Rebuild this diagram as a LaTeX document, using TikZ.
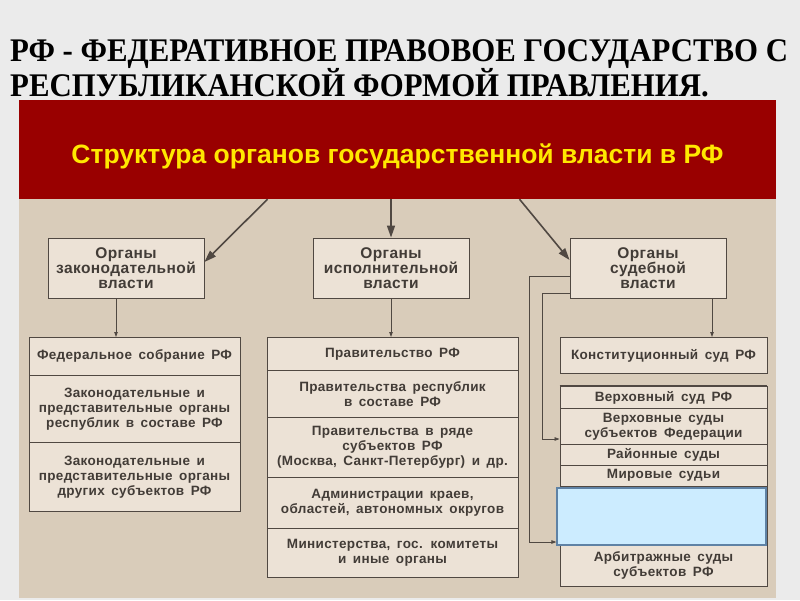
\documentclass[tikz,border=0pt]{standalone}
\usepackage{fontspec}
\usepackage{graphicx}
\setmainfont{Liberation Serif}
\setsansfont{Liberation Sans}
\newfontfamily\boxfont[LetterSpace=2.5,WordSpace=1.6]{Liberation Sans}
\usetikzlibrary{shapes,arrows.meta,calc}

\definecolor{paper}{RGB}{235,235,235}
\definecolor{panel}{RGB}{217,204,186}
\definecolor{boxfill}{RGB}{236,226,214}
\definecolor{edge}{RGB}{80,72,66}
\definecolor{ink}{RGB}{66,60,55}
\definecolor{headred}{RGB}{153,0,0}
\definecolor{headtext}{RGB}{255,232,0}
\definecolor{hidefill}{RGB}{204,236,255}
\definecolor{hideedge}{RGB}{95,130,165}

% one part of a list: height, width, text
\newcommand{\row}[3]{\parbox[c][#1pt][c]{#2pt}{\centering #3}}

\begin{document}
\begin{tikzpicture}[x=1pt,y=-1pt]
\tikzstyle{organ}=[
  draw=edge, fill=boxfill, text=ink, line width=0.9pt,
  font=\boxfont\bfseries\fontsize{15.5}{14.5}\selectfont,
  align=center, inner sep=0pt,
  minimum width=156pt, minimum height=60pt ]
\tikzstyle{orglist}=[
  rectangle split,
  draw=edge, fill=boxfill, text=ink, line width=0.9pt,
  font=\boxfont\bfseries\fontsize{13.5}{15}\selectfont,
  inner sep=0pt ]
\tikzstyle{bigarrow}=[draw=edge, line width=1.6pt,
  -{Triangle[length=12pt,width=8pt]}]
\tikzstyle{smallarrow}=[draw=edge, line width=0.8pt,
  -{Triangle[length=5pt,width=3.5pt]}]

\useasboundingbox[fill=paper] (0,0) rectangle (800,600);
\fill[panel] (19,100) rectangle (776,598);

% title
\node[anchor=base west, inner sep=0pt,
  font=\bfseries\fontsize{33}{33}\selectfont] (title1) at (10,61)
  {\scalebox{0.934}[1]{РФ - ФЕДЕРАТИВНОЕ ПРАВОВОЕ ГОСУДАРСТВО С}};
\node[anchor=base west, inner sep=0pt,
  font=\bfseries\fontsize{33}{33}\selectfont] (title2) at (10,96)
  {\scalebox{0.934}[1]{РЕСПУБЛИКАНСКОЙ ФОРМОЙ ПРАВЛЕНИЯ.}};

% header
\node[fill=headred, minimum width=757pt, minimum height=99pt, inner sep=0pt,
  text height=27pt, text depth=0pt,
  text=headtext, font=\sffamily\bfseries\fontsize{26.5}{26.5}\selectfont]
  (head) at (397.5,149.5) {Структура органов государственной власти в РФ};

% three branches
\node[organ] (leg) at (126,268) {Органы\\законодательной\\власти};
\node[organ] (exe) at (391,268) {Органы\\исполнительной\\власти};
\node[organ] (jud) at (648,268) {Органы\\судебной\\власти};

% lists
\node[orglist, rectangle split parts=3, anchor=north] (leglist) at (134.5,337)
  {\row{37}{211}{Федеральное собрание РФ}
   \nodepart{two}\row{66}{211}{Законодательные и\\представительные органы\\республик в составе РФ}
   \nodepart{three}\row{68}{211}{Законодательные и\\представительные органы\\других субъектов РФ}};
\node[orglist, rectangle split parts=5, anchor=north] (exelist) at (392.5,337)
  {\row{32}{251}{Правительство РФ}
   \nodepart{two}\row{46}{251}{Правительства республик\\в составе РФ}
   \nodepart{three}\row{59}{251}{Правительства в ряде\\субъектов РФ\\(Москва, Санкт-Петербург) и др.}
   \nodepart{four}\row{50}{251}{Администрации краев,\\областей, автономных округов}
   \nodepart{five}\row{48}{251}{Министерства, гос. комитеты\\и иные органы}};
\node[organ, font=\boxfont\bfseries\fontsize{13.5}{15}\selectfont,
  minimum width=207pt, minimum height=36pt, anchor=north] (const) at (663.5,337)
  {Конституционный суд РФ};
\node[orglist, rectangle split parts=6, anchor=north] (courts) at (663.5,386)
  {\row{21}{207}{Верховный суд РФ}
   \nodepart{two}\row{35}{207}{Верховные суды\\субъектов Федерации}
   \nodepart{three}\row{20}{207}{Районные суды}
   \nodepart{four}\row{20}{207}{Мировые судьи}
   \nodepart{five}\row{58}{207}{}
   \nodepart{six}\row{41}{207}{Арбитражные суды\\субъектов РФ}};
\draw[edge, line width=2pt] (courts.north west) -- (courts.north east);
\node[draw=hideedge, fill=hidefill, line width=1.2pt, inner sep=0pt,
  minimum width=209pt, minimum height=57pt] (hide) at (661.5,516.5) {};

% connectors
\draw[bigarrow] ($(head.south)+(-130,0)$) -- ($(leg.east)+(0,-6)$);
\draw[bigarrow] (exe.north |- head.south) -- (exe.north);
\draw[bigarrow] ($(head.south)+(122,0)$) -- ($(jud.west)+(0,-8)$);
\draw[smallarrow] ($(leg.south)+(-10,0)$) coordinate (l1) -- (l1 |- leglist.north);
\draw[smallarrow] (exe.south) -- (exe.south |- exelist.north);
\draw[smallarrow] ($(jud.south)+(64,0)$) coordinate (j1) -- (j1 |- const.north);
\coordinate (b1) at (529,542);
\coordinate (b2) at (542,439);
\draw[smallarrow] ($(jud.west)+(0,8)$) -| (b1) -- (b1 -| hide.west);
\draw[smallarrow] ($(jud.west)+(0,25)$) -| (b2) -- (b2 -| courts.west);
\end{tikzpicture}
\end{document}
